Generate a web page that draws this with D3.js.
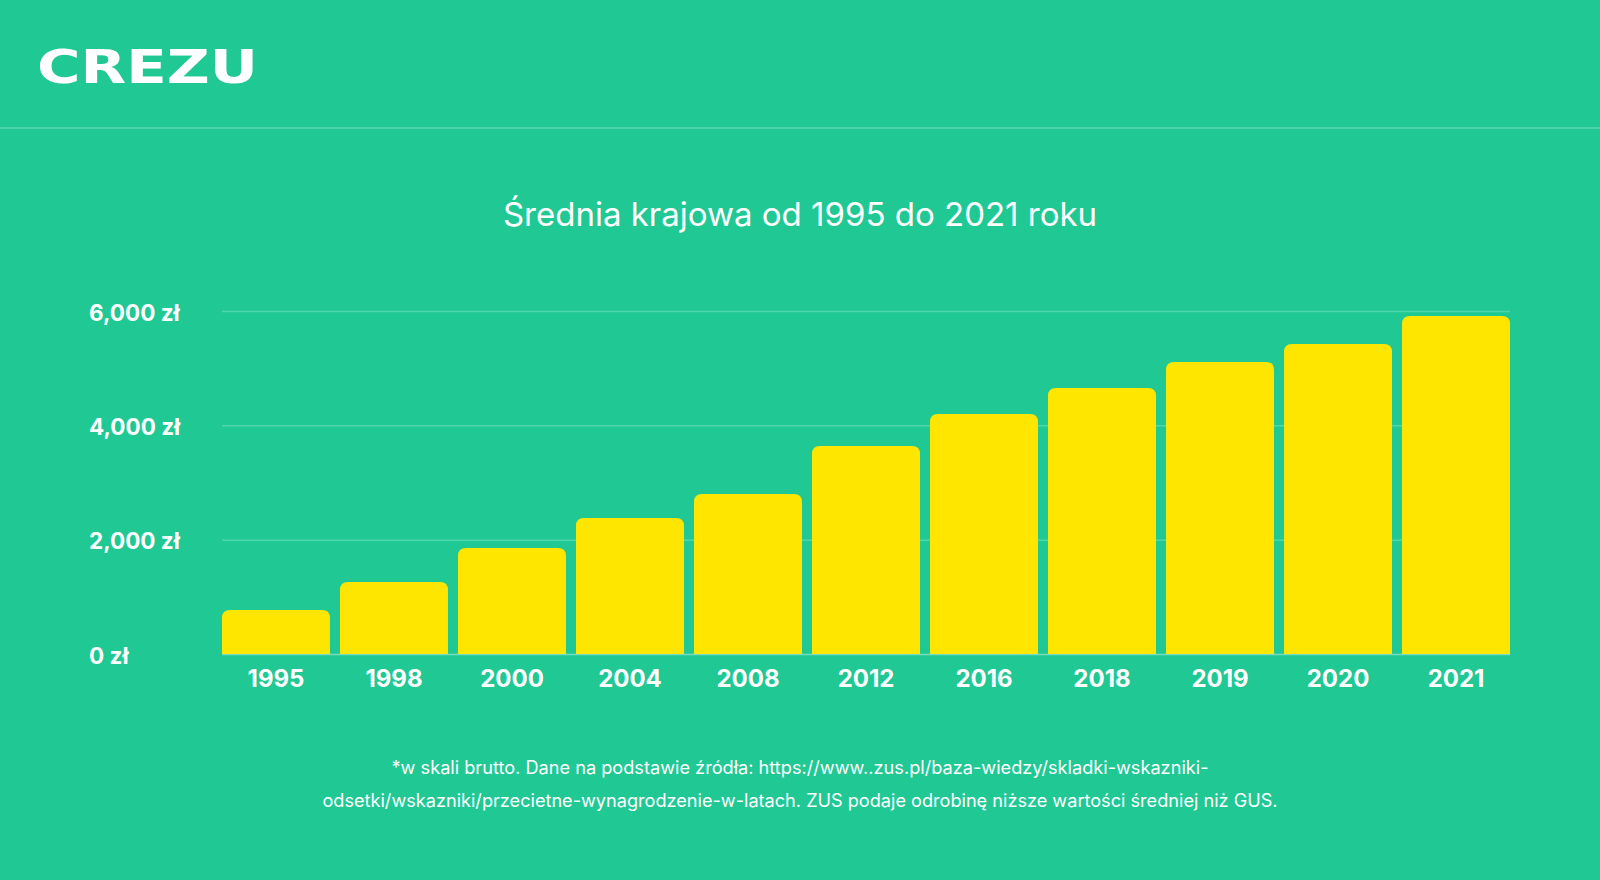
<!DOCTYPE html>
<html>
<head>
<meta charset="utf-8">
<script src="https://cdn.jsdelivr.net/npm/d3@7"></script>
<style>
  html, body { margin: 0; padding: 0; background: #20c994; }
  svg { display: block; }
  text { font-family: Inter, "Noto Sans", sans-serif; fill: #fff; }
</style>
</head>
<body>
<div id="chart"></div>
<script>
const years = ['1995', '1998', '2000', '2004', '2008', '2012', '2016', '2018', '2019', '2020', '2021'];
const salaries = [770, 1260, 1855, 2380, 2800, 3640, 4200, 4655, 5110, 5424, 5914];
const yTicks = [0, 2000, 4000, 6000];

const title = 'Średnia krajowa od 1995 do 2021 roku';
const note1 = '*w skali brutto. Dane na podstawie źródła: https://www..zus.pl/baza-wiedzy/skladki-wskazniki-';
const note2 = 'odsetki/wskazniki/przecietne-wynagrodzenie-w-latach. ZUS podaje odrobinę niższe wartości średniej niż GUS.';

const W = 1600, H = 880;
const margin = { top: 311, right: 90, bottom: 226, left: 222 };
const width = W - margin.left - margin.right;
const height = H - margin.top - margin.bottom;

const svg = d3.select('#chart')
  .append('svg')
  .attr('width', W)
  .attr('height', H);

svg.append('rect').attr('width', W).attr('height', H).attr('fill', '#20c994');

// logo + separator
svg.append('text')
  .attr('x', 37)
  .attr('y', 83)
  .attr('textLength', 221)
  .attr('lengthAdjust', 'spacingAndGlyphs')
  .style('font-family', '"DejaVu Sans", sans-serif')
  .style('font-weight', 700)
  .style('font-size', '46px')
  .text('CREZU');

svg.append('line')
  .attr('x1', 0).attr('x2', W)
  .attr('y1', 128).attr('y2', 128)
  .attr('stroke', 'rgba(255,255,255,0.25)')
  .attr('stroke-width', 1.5);

svg.append('text')
  .attr('x', W / 2)
  .attr('y', 226)
  .attr('text-anchor', 'middle')
  .style('font-size', '33px')
  .text(title);

const g = svg.append('g')
  .attr('transform', `translate(${margin.left}, ${margin.top})`);

const x = d3.scaleBand().domain(years).range([0, width]).paddingInner(0.085).paddingOuter(0);
const y = d3.scaleLinear().domain([0, 6000]).range([height, 0]);

// gridlines
g.append('g')
  .call(d3.axisLeft(y).tickValues(yTicks).tickSize(-width).tickFormat(''))
  .call((s) => s.select('.domain').remove())
  .call((s) => s.selectAll('line').attr('stroke', 'rgba(255,255,255,0.22)').attr('stroke-width', 1.5));

// y labels, left aligned
g.append('g')
  .attr('transform', `translate(${89 - margin.left - 3}, 2)`)
  .call(d3.axisRight(y).tickValues(yTicks).tickSize(0).tickPadding(3).tickFormat((d) => d3.format(',')(d) + ' zł'))
  .call((s) => s.select('.domain').remove())
  .call((s) => s.selectAll('text')
    .attr('fill', '#fff')
    .style('font-family', 'Inter, sans-serif')
    .style('font-size', '22.5px')
    .style('font-weight', 700));

// bars with rounded top corners
const r = 8;
function barPath(x0, y0, w, h) {
  const rr = Math.min(r, h);
  return `M${x0},${y0 + h}V${y0 + rr}Q${x0},${y0} ${x0 + rr},${y0}H${x0 + w - rr}Q${x0 + w},${y0} ${x0 + w},${y0 + rr}V${y0 + h}Z`;
}

g.selectAll('.bar')
  .data(years)
  .enter()
  .append('path')
  .attr('class', 'bar')
  .attr('fill', '#ffe600')
  .attr('d', (d, i) => barPath(x(d), y(salaries[i]), x.bandwidth(), height - y(salaries[i])));

// x axis
g.append('g')
  .attr('transform', `translate(0, ${height})`)
  .call(d3.axisBottom(x).tickSize(0).tickPadding(16))
  .call((s) => s.select('.domain').attr('stroke', 'rgba(255,255,255,0.22)').attr('stroke-width', 1.5))
  .call((s) => s.selectAll('text')
    .attr('fill', '#fff')
    .attr('dy', '0.71em')
    .style('font-family', 'Inter, sans-serif')
    .style('font-size', '24px')
    .style('font-weight', 700));

// footnote
const notes = svg.append('g')
  .style('font-family', 'Roboto, sans-serif')
  .style('font-size', '18px');

notes.append('text')
  .attr('x', 800).attr('y', 774)
  .attr('text-anchor', 'middle')
  .attr('fill', 'rgba(255,255,255,0.85)')
  .attr('textLength', 817)
  .attr('lengthAdjust', 'spacingAndGlyphs')
  .text(note1);

notes.append('text')
  .attr('x', 800).attr('y', 807)
  .attr('text-anchor', 'middle')
  .attr('fill', 'rgba(255,255,255,0.85)')
  .attr('textLength', 955)
  .attr('lengthAdjust', 'spacingAndGlyphs')
  .text(note2);
</script>
</body>
</html>
